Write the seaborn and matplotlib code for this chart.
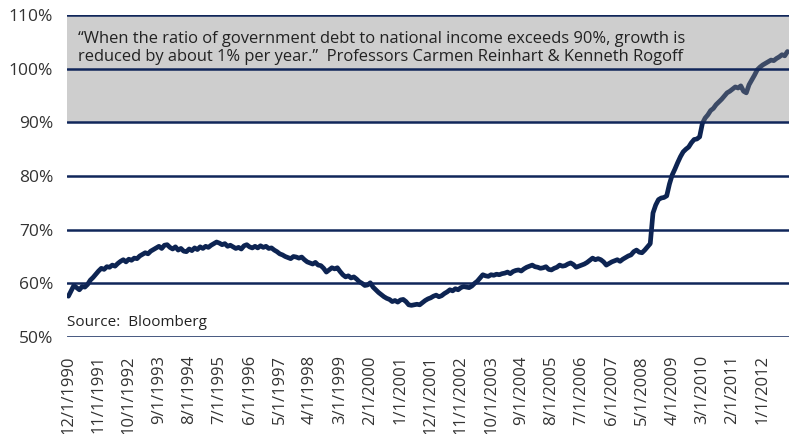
import numpy as np
import pandas as pd
import matplotlib
matplotlib.use("Agg")
import matplotlib.pyplot as plt
import matplotlib.ticker as ticker
import seaborn as sns

# --- data: government debt / national income, monthly, 12/1990 .. 10/2012 ---
start_1990 = [57.6]
y1991 = [58.6, 59.6, 59.2, 58.8, 59.4, 59.3, 59.8, 60.6, 61.1, 61.7, 62.3, 62.8]
y1992 = [62.6, 63.1, 63.0, 63.4, 63.2, 63.7, 64.1, 64.4, 64.0, 64.5, 64.3, 64.7]
y1993 = [64.6, 65.1, 65.4, 65.7, 65.5, 66.0, 66.3, 66.6, 66.9, 66.5, 67.1, 67.2]
y1994 = [66.7, 66.4, 66.8, 66.2, 66.5, 66.0, 65.9, 66.4, 66.1, 66.6, 66.3, 66.8]
y1995 = [66.5, 66.9, 66.7, 67.1, 67.4, 67.7, 67.5, 67.2, 67.4, 66.9, 67.1, 66.8]
y1996 = [66.5, 66.7, 66.4, 67.0, 67.2, 66.8, 66.6, 66.9, 66.6, 67.0, 66.7, 66.9]
y1997 = [66.5, 66.6, 66.2, 65.9, 65.5, 65.3, 65.0, 64.8, 64.6, 65.0, 64.9, 64.7]
y1998 = [64.9, 64.4, 64.0, 63.8, 63.6, 63.9, 63.4, 63.3, 62.8, 62.1, 62.5, 62.9]
y1999 = [62.7, 62.9, 62.2, 61.6, 61.2, 61.4, 61.0, 61.2, 60.8, 60.3, 60.0, 59.6]
y2000 = [59.7, 60.1, 59.3, 58.8, 58.3, 57.9, 57.5, 57.2, 57.0, 56.6, 56.8, 56.5]
y2001 = [56.9, 57.0, 56.6, 56.0, 55.9, 56.0, 56.1, 56.0, 56.4, 56.8, 57.1, 57.3]
y2002 = [57.6, 57.8, 57.5, 57.7, 58.1, 58.4, 58.8, 58.6, 59.0, 58.8, 59.2, 59.4]
y2003 = [59.3, 59.2, 59.5, 60.0, 60.4, 61.0, 61.6, 61.4, 61.3, 61.6, 61.5, 61.7]
y2004 = [61.6, 61.8, 61.9, 62.1, 61.8, 62.2, 62.4, 62.5, 62.3, 62.7, 63.0, 63.2]
y2005 = [63.4, 63.1, 63.0, 62.8, 62.9, 63.1, 62.6, 62.5, 62.8, 63.0, 63.4, 63.2]
y2006 = [63.3, 63.6, 63.8, 63.5, 63.0, 63.2, 63.4, 63.6, 63.9, 64.3, 64.7, 64.4]
y2007 = [64.6, 64.4, 64.0, 63.4, 63.7, 64.0, 64.2, 64.4, 64.1, 64.5, 64.8, 65.1]
y2008 = [65.3, 65.9, 66.2, 65.8, 65.7, 66.2, 66.8, 67.4, 73.1, 74.6, 75.6, 75.9]
y2009 = [76.0, 76.3, 78.5, 80.2, 81.3, 82.5, 83.6, 84.5, 85.0, 85.4, 86.2, 86.8]
y2010 = [86.9, 87.3, 89.8, 90.8, 91.4, 92.2, 92.6, 93.3, 93.8, 94.3, 94.9, 95.5]
y2011 = [95.8, 96.2, 96.6, 96.4, 96.8, 95.8, 95.5, 97.0, 97.9, 98.8, 99.8, 100.3]
y2012 = [100.7, 101.0, 101.3, 101.6, 101.5, 101.9, 102.2, 102.6, 102.4, 103.2]

tick_labels = ['12/1/1990', '11/1/1991', '10/1/1992', '9/1/1993', '8/1/1994',
               '7/1/1995', '6/1/1996', '5/1/1997', '4/1/1998', '3/1/1999',
               '2/1/2000', '1/1/2001', '12/1/2001', '11/1/2002', '10/1/2003',
               '9/1/2004', '8/1/2005', '7/1/2006', '6/1/2007', '5/1/2008',
               '4/1/2009', '3/1/2010', '2/1/2011', '1/1/2012']

quote = ('\u201cWhen the ratio of government debt to national income exceeds 90%, growth is\n'
         'reduced by about 1% per year.\u201d  Professors Carmen Reinhart & Kenneth Rogoff')

values = (start_1990 + y1991 + y1992 + y1993 + y1994 + y1995 + y1996 + y1997 +
          y1998 + y1999 + y2000 + y2001 + y2002 + y2003 + y2004 + y2005 +
          y2006 + y2007 + y2008 + y2009 + y2010 + y2011 + y2012)
df = pd.DataFrame({'idx': np.arange(len(values)), 'ratio': values})

# --- style ---
sns.set_style('white')
plt.rcParams['font.family'] = ['Open Sans', 'DejaVu Sans']

navy = '#10265a'
fig = plt.figure(figsize=(7.96, 4.34), dpi=100)
ax = fig.add_axes([0.0842, 0.2235, 0.9068, 0.7419])

sns.lineplot(data=df, x='idx', y='ratio', ax=ax, color='#0d2452', linewidth=3.4, zorder=2)

# grey "danger zone" laid over the line so the line shows through dimmed
ax.axhspan(90, 110, color='#858585', alpha=0.4, linewidth=0, zorder=3)

for v in range(50, 111, 10):
    ax.axhline(v, color=navy, linewidth=1.8, zorder=4)

ax.set_xlim(-0.5, len(values) - 0.5)
ax.set_ylim(50, 110)
ax.set_yticks(range(50, 111, 10))
ax.yaxis.set_major_formatter(ticker.FuncFormatter(lambda v, pos: '{:.0f}%'.format(v)))
ax.set_xticks(range(0, 11 * len(tick_labels), 11))
ax.set_xticklabels(tick_labels, rotation=90)
ax.tick_params(axis='both', length=0, colors='#333333')
ax.tick_params(axis='y', pad=10, labelsize=12.5)
ax.tick_params(axis='x', pad=13, labelsize=12)
for s in ax.spines.values():
    s.set_visible(False)
ax.set_xlabel('')
ax.set_ylabel('')

ax.text(0.015, 0.95, quote, transform=ax.transAxes, ha='left', va='top',
        fontsize=11.9, color='#222222', linespacing=1.15, zorder=5)
ax.text(0.0, 0.045, 'Source:  Bloomberg', transform=ax.transAxes, ha='left', va='center',
        fontsize=11, color='#222222', zorder=5)

fig.savefig('out.png', dpi=100)
